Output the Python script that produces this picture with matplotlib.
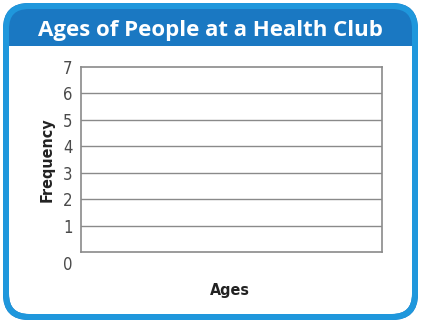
import matplotlib
matplotlib.use("Agg")
import matplotlib.pyplot as plt
from matplotlib.patches import FancyBboxPatch, Rectangle
from matplotlib.transforms import ScaledTranslation

title = "Ages of People at a Health Club"
x_label = "Ages"
y_label = "Frequency"
freq_ticks = [0, 1, 2, 3, 4, 5, 6, 7]

W, H = 421, 324
BORDER = "#1f97dc"
HEADER = "#1a78c2"
GRID = "#8a8a8a"

fig = plt.figure(figsize=(W / 100, H / 100), dpi=100)

# background card drawn in pixel coordinates (y down)
bg = fig.add_axes([0, 0, 1, 1])
bg.set_xlim(0, W)
bg.set_ylim(H, 0)
bg.axis("off")
bg.add_patch(FancyBboxPatch((3, 3), 415, 317, boxstyle="round,pad=0,rounding_size=26",
                            facecolor=HEADER, edgecolor="none", zorder=1))
bg.add_patch(FancyBboxPatch((9, 46), 403, 268, boxstyle="round,pad=0,rounding_size=20",
                            facecolor="white", edgecolor="none", zorder=2))
bg.add_patch(Rectangle((9, 46), 403, 40, facecolor="white", edgecolor="none", zorder=2))
# border ring on top, 6 px wide, centred 3 px inside the outer edge
bg.add_patch(FancyBboxPatch((6, 6), 409, 311, boxstyle="round,pad=0,rounding_size=23",
                            facecolor="none", edgecolor=BORDER, linewidth=6 * 0.72, zorder=5))
bg.text(210, 36, title, ha="center", va="baseline", color="white", zorder=6,
        fontsize=16, fontweight="bold", family=["Open Sans", "DejaVu Sans"])

ax = fig.add_axes([81 / W, 1 - 252 / H, (382 - 81) / W, (252 - 67) / H])
ax.set_xlim(0, 1)
ax.set_ylim(0, 7)
ax.set_xticks([])
ax.set_yticks(freq_ticks)
ax.set_yticklabels([str(v) for v in freq_ticks], family="DejaVu Sans", stretch="condensed",
                   fontsize=12, color="#4a4a4a")
ax.tick_params(axis="y", length=0, pad=6)
for y in freq_ticks[1:-1]:
    ax.axhline(y, color=GRID, linewidth=1)
for s in ax.spines.values():
    s.set_color(GRID)
    s.set_linewidth(1.2)
# the 0 label sits a bit below the baseline
lab0 = ax.get_yticklabels()[0]
lab0.set_transform(lab0.get_transform() + ScaledTranslation(0, -8 / 72, fig.dpi_scale_trans))

bg.text(47, 160, y_label, rotation=90, ha="center", va="center", stretch="condensed",
        fontsize=11.5, fontweight="bold", family="DejaVu Sans", color="#222222")
bg.text(230, 291, x_label, ha="center", va="center", stretch="condensed",
        fontsize=11.5, fontweight="bold", family="DejaVu Sans", color="#222222")

fig.savefig("out.png", dpi=100)
